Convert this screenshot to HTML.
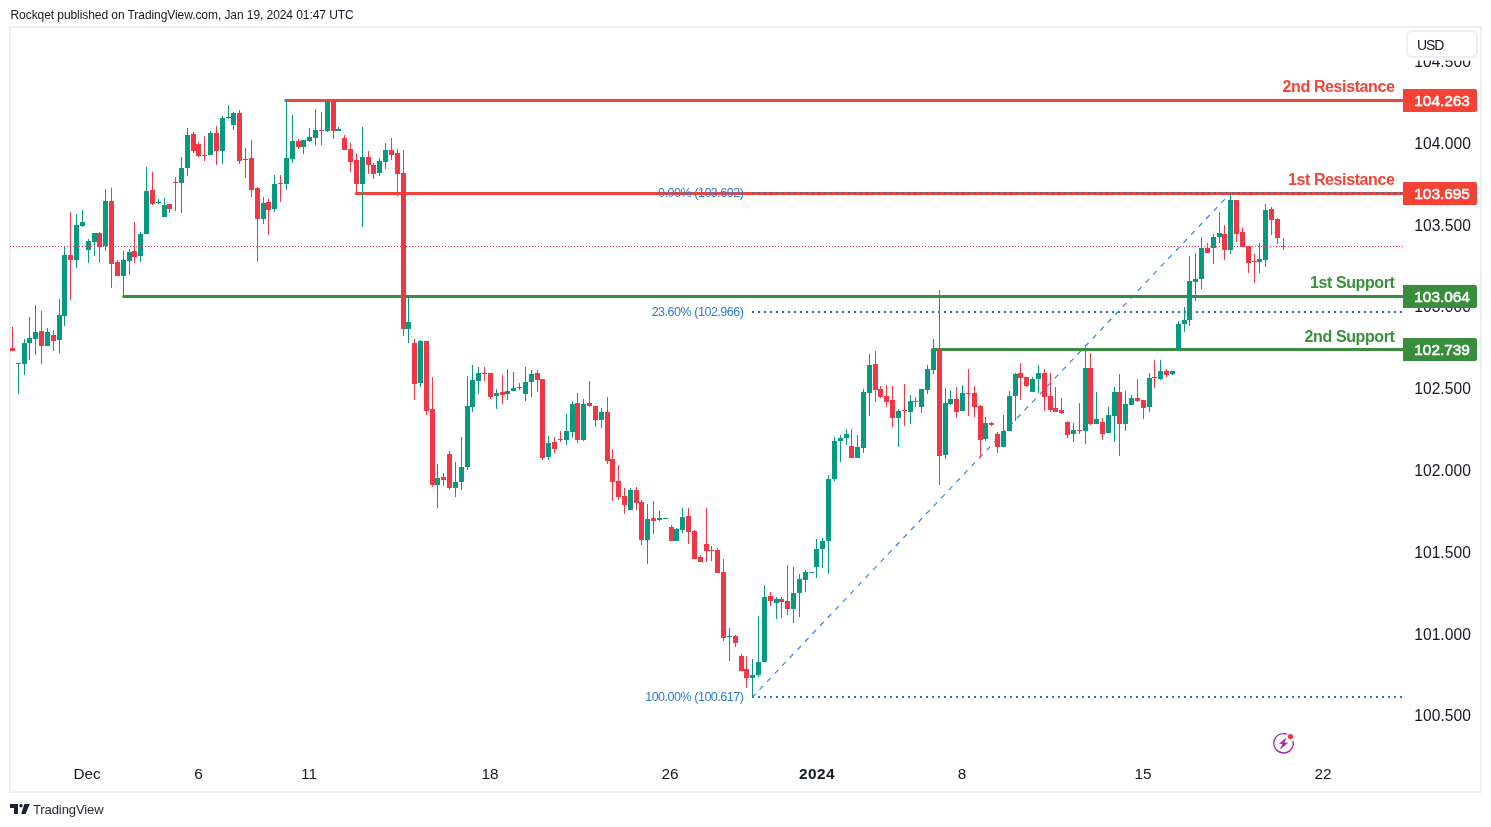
<!DOCTYPE html>
<html lang="en"><head><meta charset="utf-8"><title>DXY chart - TradingView</title>
<style>
html,body{margin:0;padding:0;background:#fff;}
body{width:1491px;height:827px;overflow:hidden;position:relative;font-family:"Liberation Sans",sans-serif;color:#131722;}
#frame{position:absolute;left:9px;top:26px;width:1469px;height:763px;border:2px solid #eceef4;box-sizing:content-box;}
#hdr{position:absolute;left:10.5px;top:8.2px;font-size:12px;line-height:14px;white-space:nowrap;letter-spacing:-0.07px;color:#131722;}
svg{position:absolute;left:0;top:0;}
.ax{font-size:15.6px;fill:#131722;letter-spacing:0.05px;}
.tx{font-size:15.4px;fill:#131722;}
.lab{font-size:15.4px;font-weight:normal;fill:#fff;stroke:#fff;stroke-width:0.55px;letter-spacing:0px;}
.ttl{font-size:16px;font-weight:bold;letter-spacing:-0.39px;}
.fib{font-size:12.5px;fill:#2a7bd6;letter-spacing:-0.47px;}
#usd{position:absolute;left:1406px;top:30px;width:68px;height:24px;border:2px solid #eceef4;border-radius:6px;background:#fff;font-size:14px;line-height:24px;}
#usd span{position:absolute;left:9px;top:0.5px;letter-spacing:-1.1px;}
#tv{position:absolute;left:33px;top:801.6px;font-size:13px;line-height:16px;color:#1e222d;letter-spacing:-0.1px;}
</style></head><body>
<div id="hdr">Rockqet published on TradingView.com, Jan 19, 2024 01:47 UTC</div>
<div id="frame"></div>
<svg width="1491" height="827" viewBox="0 0 1491 827">
<g class="ax">
<text x="1414.2" y="67.2">104.500</text>
<text x="1414.2" y="148.9">104.000</text>
<text x="1414.2" y="230.7">103.500</text>
<text x="1414.2" y="312.4">103.000</text>
<text x="1414.2" y="394.2">102.500</text>
<text x="1414.2" y="475.9">102.000</text>
<text x="1414.2" y="557.7">101.500</text>
<text x="1414.2" y="639.5">101.000</text>
<text x="1414.2" y="721.2">100.500</text>
</g>
<rect x="1404" y="28" width="75" height="32.6" fill="#fff"/>
<g class="tx" text-anchor="middle">
<text x="87" y="779" letter-spacing="-0.2">Dec</text>
<text x="198.5" y="779" letter-spacing="-0.2">6</text>
<text x="309" y="779" letter-spacing="0">11</text>
<text x="490" y="779" letter-spacing="0">18</text>
<text x="670" y="779" letter-spacing="0">26</text>
<text x="817" y="779" font-weight="bold" letter-spacing="0.4">2024</text>
<text x="962" y="779" letter-spacing="-0.2">8</text>
<text x="1143" y="779" letter-spacing="0">15</text>
<text x="1323" y="779" letter-spacing="0">22</text>
</g>
<line x1="752" x2="1403" y1="193" y2="193" stroke="#1976d2" stroke-width="2" stroke-dasharray="2 4" shape-rendering="crispEdges"/>
<line x1="752" x2="1403" y1="312" y2="312" stroke="#1976d2" stroke-width="2" stroke-dasharray="2 4" shape-rendering="crispEdges"/>
<line x1="752" x2="1403" y1="697" y2="697" stroke="#1976d2" stroke-width="2" stroke-dasharray="2 4" shape-rendering="crispEdges"/>
<line x1="752.7" y1="696.8" x2="1230.5" y2="193.2" stroke="#3a88e8" stroke-width="1.25" stroke-dasharray="5.2 5.8" stroke-dashoffset="1.1"/>
<line x1="285.8" x2="1404" y1="100.5" y2="100.5" stroke="#f44336" stroke-width="3" stroke-linecap="round"/>
<line x1="356.2" x2="1404" y1="193.5" y2="193.5" stroke="#f44336" stroke-width="3" stroke-linecap="round"/>
<line x1="123.6" x2="1404" y1="296.5" y2="296.5" stroke="#388e3c" stroke-width="3" stroke-linecap="round"/>
<line x1="932.7" x2="1404" y1="349.5" y2="349.5" stroke="#388e3c" stroke-width="3" stroke-linecap="round"/>
<line x1="752" x2="1403" y1="193" y2="193" stroke="#1976d2" stroke-width="2" stroke-dasharray="2 4" shape-rendering="crispEdges"/>
<g shape-rendering="crispEdges">
<rect x="12" y="327" width="1" height="24" fill="#f23645"/><rect x="10" y="348" width="5" height="3" fill="#f23645"/>
<rect x="18" y="363" width="1" height="31" fill="#089981"/><rect x="16" y="363" width="5" height="1" fill="#089981"/>
<rect x="24" y="339" width="1" height="36" fill="#089981"/><rect x="22" y="343" width="5" height="21" fill="#089981"/>
<rect x="29" y="317" width="1" height="43" fill="#089981"/><rect x="27" y="338" width="5" height="5" fill="#089981"/>
<rect x="35" y="305" width="1" height="50" fill="#089981"/><rect x="33" y="332" width="5" height="7" fill="#089981"/>
<rect x="41" y="311" width="1" height="53" fill="#f23645"/><rect x="39" y="331" width="5" height="15" fill="#f23645"/>
<rect x="47" y="328" width="1" height="18" fill="#089981"/><rect x="45" y="332" width="5" height="14" fill="#089981"/>
<rect x="53" y="330" width="1" height="21" fill="#f23645"/><rect x="51" y="335" width="5" height="6" fill="#f23645"/>
<rect x="59" y="299" width="1" height="54" fill="#089981"/><rect x="57" y="315" width="5" height="25" fill="#089981"/>
<rect x="64" y="247" width="1" height="79" fill="#089981"/><rect x="62" y="255" width="5" height="61" fill="#089981"/>
<rect x="70" y="212" width="1" height="88" fill="#f23645"/><rect x="68" y="255" width="5" height="5" fill="#f23645"/>
<rect x="76" y="214" width="1" height="54" fill="#089981"/><rect x="74" y="225" width="5" height="35" fill="#089981"/>
<rect x="82" y="210" width="1" height="17" fill="#089981"/><rect x="80" y="222" width="5" height="4" fill="#089981"/>
<rect x="88" y="239" width="1" height="24" fill="#089981"/><rect x="86" y="241" width="5" height="9" fill="#089981"/>
<rect x="94" y="233" width="1" height="23" fill="#089981"/><rect x="92" y="233" width="5" height="9" fill="#089981"/>
<rect x="99" y="232" width="1" height="31" fill="#f23645"/><rect x="97" y="233" width="5" height="14" fill="#f23645"/>
<rect x="105" y="189" width="1" height="62" fill="#089981"/><rect x="103" y="201" width="5" height="45" fill="#089981"/>
<rect x="111" y="188" width="1" height="100" fill="#f23645"/><rect x="109" y="201" width="5" height="63" fill="#f23645"/>
<rect x="117" y="260" width="1" height="16" fill="#f23645"/><rect x="115" y="262" width="5" height="14" fill="#f23645"/>
<rect x="123" y="251" width="1" height="46" fill="#089981"/><rect x="121" y="260" width="5" height="16" fill="#089981"/>
<rect x="129" y="249" width="1" height="26" fill="#089981"/><rect x="127" y="252" width="5" height="9" fill="#089981"/>
<rect x="134" y="222" width="1" height="41" fill="#f23645"/><rect x="132" y="251" width="5" height="6" fill="#f23645"/>
<rect x="140" y="232" width="1" height="30" fill="#089981"/><rect x="138" y="234" width="5" height="22" fill="#089981"/>
<rect x="146" y="167" width="1" height="67" fill="#089981"/><rect x="144" y="191" width="5" height="43" fill="#089981"/>
<rect x="152" y="172" width="1" height="33" fill="#f23645"/><rect x="150" y="190" width="5" height="14" fill="#f23645"/>
<rect x="158" y="199" width="1" height="5" fill="#089981"/><rect x="156" y="202" width="5" height="1" fill="#089981"/>
<rect x="164" y="198" width="1" height="19" fill="#089981"/><rect x="162" y="205" width="5" height="12" fill="#089981"/>
<rect x="169" y="204" width="1" height="9" fill="#f23645"/><rect x="167" y="204" width="5" height="5" fill="#f23645"/>
<rect x="175" y="177" width="1" height="34" fill="#f23645"/><rect x="173" y="182" width="5" height="1" fill="#f23645"/>
<rect x="181" y="157" width="1" height="56" fill="#089981"/><rect x="179" y="168" width="5" height="15" fill="#089981"/>
<rect x="187" y="128" width="1" height="48" fill="#089981"/><rect x="185" y="135" width="5" height="33" fill="#089981"/>
<rect x="193" y="132" width="1" height="21" fill="#f23645"/><rect x="191" y="134" width="5" height="17" fill="#f23645"/>
<rect x="198" y="142" width="1" height="15" fill="#f23645"/><rect x="196" y="144" width="5" height="12" fill="#f23645"/>
<rect x="204" y="136" width="1" height="25" fill="#f23645"/><rect x="202" y="155" width="5" height="1" fill="#f23645"/>
<rect x="210" y="131" width="1" height="24" fill="#089981"/><rect x="208" y="133" width="5" height="22" fill="#089981"/>
<rect x="216" y="126" width="1" height="39" fill="#f23645"/><rect x="214" y="133" width="5" height="18" fill="#f23645"/>
<rect x="222" y="116" width="1" height="48" fill="#089981"/><rect x="220" y="118" width="5" height="33" fill="#089981"/>
<rect x="228" y="105" width="1" height="14" fill="#089981"/><rect x="226" y="117" width="5" height="1" fill="#089981"/>
<rect x="233" y="112" width="1" height="18" fill="#089981"/><rect x="231" y="113" width="5" height="12" fill="#089981"/>
<rect x="239" y="110" width="1" height="54" fill="#f23645"/><rect x="237" y="113" width="5" height="48" fill="#f23645"/>
<rect x="245" y="148" width="1" height="30" fill="#089981"/><rect x="243" y="159" width="5" height="1" fill="#089981"/>
<rect x="251" y="140" width="1" height="57" fill="#f23645"/><rect x="249" y="158" width="5" height="32" fill="#f23645"/>
<rect x="257" y="187" width="1" height="75" fill="#f23645"/><rect x="255" y="188" width="5" height="31" fill="#f23645"/>
<rect x="263" y="197" width="1" height="27" fill="#089981"/><rect x="261" y="203" width="5" height="16" fill="#089981"/>
<rect x="268" y="199" width="1" height="36" fill="#f23645"/><rect x="266" y="202" width="5" height="8" fill="#f23645"/>
<rect x="274" y="175" width="1" height="37" fill="#089981"/><rect x="272" y="184" width="5" height="25" fill="#089981"/>
<rect x="280" y="175" width="1" height="27" fill="#f23645"/><rect x="278" y="183" width="5" height="1" fill="#f23645"/>
<rect x="286" y="100" width="1" height="90" fill="#089981"/><rect x="284" y="158" width="5" height="26" fill="#089981"/>
<rect x="292" y="115" width="1" height="48" fill="#089981"/><rect x="290" y="141" width="5" height="18" fill="#089981"/>
<rect x="298" y="139" width="1" height="10" fill="#f23645"/><rect x="296" y="141" width="5" height="6" fill="#f23645"/>
<rect x="303" y="140" width="1" height="14" fill="#089981"/><rect x="301" y="140" width="5" height="7" fill="#089981"/>
<rect x="309" y="128" width="1" height="14" fill="#089981"/><rect x="307" y="137" width="5" height="4" fill="#089981"/>
<rect x="315" y="109" width="1" height="36" fill="#089981"/><rect x="313" y="130" width="5" height="8" fill="#089981"/>
<rect x="321" y="112" width="1" height="33" fill="#f23645"/><rect x="319" y="130" width="5" height="1" fill="#f23645"/>
<rect x="327" y="100" width="1" height="32" fill="#089981"/><rect x="325" y="101" width="5" height="30" fill="#089981"/>
<rect x="333" y="101" width="1" height="38" fill="#f23645"/><rect x="331" y="101" width="5" height="30" fill="#f23645"/>
<rect x="338" y="127" width="1" height="4" fill="#089981"/><rect x="336" y="129" width="5" height="2" fill="#089981"/>
<rect x="344" y="135" width="1" height="15" fill="#f23645"/><rect x="342" y="138" width="5" height="12" fill="#f23645"/>
<rect x="350" y="143" width="1" height="29" fill="#f23645"/><rect x="348" y="149" width="5" height="13" fill="#f23645"/>
<rect x="356" y="153" width="1" height="41" fill="#f23645"/><rect x="354" y="160" width="5" height="24" fill="#f23645"/>
<rect x="362" y="127" width="1" height="100" fill="#089981"/><rect x="360" y="157" width="5" height="27" fill="#089981"/>
<rect x="368" y="151" width="1" height="23" fill="#f23645"/><rect x="366" y="157" width="5" height="8" fill="#f23645"/>
<rect x="373" y="163" width="1" height="16" fill="#f23645"/><rect x="371" y="165" width="5" height="9" fill="#f23645"/>
<rect x="379" y="158" width="1" height="18" fill="#089981"/><rect x="377" y="161" width="5" height="12" fill="#089981"/>
<rect x="385" y="143" width="1" height="26" fill="#089981"/><rect x="383" y="150" width="5" height="12" fill="#089981"/>
<rect x="391" y="138" width="1" height="22" fill="#f23645"/><rect x="389" y="150" width="5" height="5" fill="#f23645"/>
<rect x="397" y="149" width="1" height="47" fill="#f23645"/><rect x="395" y="153" width="5" height="21" fill="#f23645"/>
<rect x="403" y="150" width="1" height="186" fill="#f23645"/><rect x="401" y="173" width="5" height="156" fill="#f23645"/>
<rect x="408" y="298" width="1" height="45" fill="#089981"/><rect x="406" y="322" width="5" height="7" fill="#089981"/>
<rect x="414" y="339" width="1" height="61" fill="#f23645"/><rect x="412" y="343" width="5" height="41" fill="#f23645"/>
<rect x="420" y="340" width="1" height="47" fill="#089981"/><rect x="418" y="341" width="5" height="42" fill="#089981"/>
<rect x="426" y="341" width="1" height="74" fill="#f23645"/><rect x="424" y="341" width="5" height="70" fill="#f23645"/>
<rect x="432" y="377" width="1" height="110" fill="#f23645"/><rect x="430" y="409" width="5" height="76" fill="#f23645"/>
<rect x="437" y="464" width="1" height="44" fill="#089981"/><rect x="435" y="478" width="5" height="7" fill="#089981"/>
<rect x="443" y="473" width="1" height="13" fill="#f23645"/><rect x="441" y="477" width="5" height="3" fill="#f23645"/>
<rect x="449" y="451" width="1" height="39" fill="#f23645"/><rect x="447" y="454" width="5" height="34" fill="#f23645"/>
<rect x="455" y="462" width="1" height="35" fill="#089981"/><rect x="453" y="482" width="5" height="6" fill="#089981"/>
<rect x="461" y="437" width="1" height="53" fill="#089981"/><rect x="459" y="467" width="5" height="15" fill="#089981"/>
<rect x="467" y="376" width="1" height="94" fill="#089981"/><rect x="465" y="406" width="5" height="61" fill="#089981"/>
<rect x="472" y="365" width="1" height="47" fill="#089981"/><rect x="470" y="380" width="5" height="27" fill="#089981"/>
<rect x="478" y="367" width="1" height="27" fill="#089981"/><rect x="476" y="373" width="5" height="8" fill="#089981"/>
<rect x="484" y="367" width="1" height="14" fill="#f23645"/><rect x="482" y="373" width="5" height="1" fill="#f23645"/>
<rect x="490" y="373" width="1" height="26" fill="#f23645"/><rect x="488" y="373" width="5" height="24" fill="#f23645"/>
<rect x="496" y="389" width="1" height="20" fill="#089981"/><rect x="494" y="393" width="5" height="3" fill="#089981"/>
<rect x="502" y="375" width="1" height="29" fill="#f23645"/><rect x="500" y="392" width="5" height="3" fill="#f23645"/>
<rect x="507" y="369" width="1" height="31" fill="#089981"/><rect x="505" y="391" width="5" height="3" fill="#089981"/>
<rect x="513" y="372" width="1" height="19" fill="#089981"/><rect x="511" y="388" width="5" height="3" fill="#089981"/>
<rect x="519" y="383" width="1" height="7" fill="#089981"/><rect x="517" y="387" width="5" height="1" fill="#089981"/>
<rect x="525" y="367" width="1" height="34" fill="#089981"/><rect x="523" y="382" width="5" height="12" fill="#089981"/>
<rect x="531" y="370" width="1" height="27" fill="#089981"/><rect x="529" y="374" width="5" height="8" fill="#089981"/>
<rect x="537" y="370" width="1" height="22" fill="#f23645"/><rect x="535" y="373" width="5" height="7" fill="#f23645"/>
<rect x="542" y="379" width="1" height="81" fill="#f23645"/><rect x="540" y="379" width="5" height="79" fill="#f23645"/>
<rect x="548" y="436" width="1" height="24" fill="#089981"/><rect x="546" y="443" width="5" height="14" fill="#089981"/>
<rect x="554" y="437" width="1" height="16" fill="#f23645"/><rect x="552" y="442" width="5" height="7" fill="#f23645"/>
<rect x="560" y="431" width="1" height="11" fill="#f23645"/><rect x="558" y="439" width="5" height="1" fill="#f23645"/>
<rect x="566" y="414" width="1" height="31" fill="#089981"/><rect x="564" y="431" width="5" height="9" fill="#089981"/>
<rect x="572" y="401" width="1" height="37" fill="#089981"/><rect x="570" y="404" width="5" height="28" fill="#089981"/>
<rect x="577" y="393" width="1" height="50" fill="#f23645"/><rect x="575" y="403" width="5" height="37" fill="#f23645"/>
<rect x="583" y="399" width="1" height="42" fill="#089981"/><rect x="581" y="404" width="5" height="36" fill="#089981"/>
<rect x="589" y="381" width="1" height="26" fill="#f23645"/><rect x="587" y="403" width="5" height="3" fill="#f23645"/>
<rect x="595" y="406" width="1" height="21" fill="#f23645"/><rect x="593" y="406" width="5" height="14" fill="#f23645"/>
<rect x="601" y="408" width="1" height="20" fill="#089981"/><rect x="599" y="412" width="5" height="8" fill="#089981"/>
<rect x="607" y="397" width="1" height="67" fill="#f23645"/><rect x="605" y="412" width="5" height="49" fill="#f23645"/>
<rect x="612" y="449" width="1" height="52" fill="#f23645"/><rect x="610" y="459" width="5" height="23" fill="#f23645"/>
<rect x="618" y="465" width="1" height="35" fill="#f23645"/><rect x="616" y="481" width="5" height="16" fill="#f23645"/>
<rect x="624" y="488" width="1" height="26" fill="#f23645"/><rect x="622" y="496" width="5" height="9" fill="#f23645"/>
<rect x="630" y="488" width="1" height="22" fill="#089981"/><rect x="628" y="490" width="5" height="20" fill="#089981"/>
<rect x="636" y="487" width="1" height="23" fill="#f23645"/><rect x="634" y="490" width="5" height="13" fill="#f23645"/>
<rect x="641" y="500" width="1" height="45" fill="#f23645"/><rect x="639" y="502" width="5" height="38" fill="#f23645"/>
<rect x="647" y="504" width="1" height="60" fill="#089981"/><rect x="645" y="519" width="5" height="21" fill="#089981"/>
<rect x="653" y="501" width="1" height="33" fill="#f23645"/><rect x="651" y="518" width="5" height="3" fill="#f23645"/>
<rect x="659" y="511" width="1" height="10" fill="#089981"/><rect x="657" y="518" width="5" height="2" fill="#089981"/>
<rect x="665" y="518" width="1" height="1" fill="#089981"/><rect x="663" y="518" width="5" height="1" fill="#089981"/>
<rect x="671" y="525" width="1" height="16" fill="#f23645"/><rect x="669" y="527" width="5" height="14" fill="#f23645"/>
<rect x="676" y="528" width="1" height="13" fill="#089981"/><rect x="674" y="529" width="5" height="12" fill="#089981"/>
<rect x="682" y="508" width="1" height="25" fill="#089981"/><rect x="680" y="517" width="5" height="13" fill="#089981"/>
<rect x="688" y="508" width="1" height="36" fill="#f23645"/><rect x="686" y="516" width="5" height="16" fill="#f23645"/>
<rect x="694" y="530" width="1" height="29" fill="#f23645"/><rect x="692" y="531" width="5" height="28" fill="#f23645"/>
<rect x="700" y="555" width="1" height="7" fill="#f23645"/><rect x="698" y="557" width="5" height="5" fill="#f23645"/>
<rect x="706" y="508" width="1" height="54" fill="#f23645"/><rect x="704" y="544" width="5" height="7" fill="#f23645"/>
<rect x="711" y="546" width="1" height="15" fill="#f23645"/><rect x="709" y="550" width="5" height="1" fill="#f23645"/>
<rect x="717" y="548" width="1" height="25" fill="#f23645"/><rect x="715" y="550" width="5" height="23" fill="#f23645"/>
<rect x="723" y="559" width="1" height="82" fill="#f23645"/><rect x="721" y="572" width="5" height="66" fill="#f23645"/>
<rect x="729" y="628" width="1" height="33" fill="#089981"/><rect x="727" y="636" width="5" height="1" fill="#089981"/>
<rect x="735" y="635" width="1" height="12" fill="#f23645"/><rect x="733" y="636" width="5" height="7" fill="#f23645"/>
<rect x="741" y="654" width="1" height="17" fill="#f23645"/><rect x="739" y="656" width="5" height="15" fill="#f23645"/>
<rect x="746" y="656" width="1" height="32" fill="#f23645"/><rect x="744" y="669" width="5" height="9" fill="#f23645"/>
<rect x="752" y="659" width="1" height="38" fill="#089981"/><rect x="750" y="675" width="5" height="3" fill="#089981"/>
<rect x="758" y="616" width="1" height="61" fill="#089981"/><rect x="756" y="662" width="5" height="13" fill="#089981"/>
<rect x="764" y="585" width="1" height="77" fill="#089981"/><rect x="762" y="597" width="5" height="65" fill="#089981"/>
<rect x="770" y="592" width="1" height="14" fill="#f23645"/><rect x="768" y="596" width="5" height="5" fill="#f23645"/>
<rect x="776" y="597" width="1" height="22" fill="#089981"/><rect x="774" y="599" width="5" height="4" fill="#089981"/>
<rect x="781" y="597" width="1" height="21" fill="#f23645"/><rect x="779" y="599" width="5" height="3" fill="#f23645"/>
<rect x="787" y="565" width="1" height="50" fill="#f23645"/><rect x="785" y="601" width="5" height="8" fill="#f23645"/>
<rect x="793" y="567" width="1" height="56" fill="#089981"/><rect x="791" y="593" width="5" height="16" fill="#089981"/>
<rect x="799" y="574" width="1" height="43" fill="#089981"/><rect x="797" y="579" width="5" height="14" fill="#089981"/>
<rect x="805" y="570" width="1" height="22" fill="#089981"/><rect x="803" y="572" width="5" height="8" fill="#089981"/>
<rect x="811" y="572" width="1" height="1" fill="#089981"/><rect x="809" y="572" width="5" height="1" fill="#089981"/>
<rect x="816" y="539" width="1" height="39" fill="#089981"/><rect x="814" y="549" width="5" height="18" fill="#089981"/>
<rect x="822" y="538" width="1" height="30" fill="#089981"/><rect x="820" y="541" width="5" height="8" fill="#089981"/>
<rect x="828" y="475" width="1" height="99" fill="#089981"/><rect x="826" y="479" width="5" height="62" fill="#089981"/>
<rect x="834" y="437" width="1" height="44" fill="#089981"/><rect x="832" y="441" width="5" height="38" fill="#089981"/>
<rect x="840" y="435" width="1" height="27" fill="#089981"/><rect x="838" y="438" width="5" height="3" fill="#089981"/>
<rect x="846" y="429" width="1" height="16" fill="#089981"/><rect x="844" y="434" width="5" height="4" fill="#089981"/>
<rect x="851" y="429" width="1" height="29" fill="#f23645"/><rect x="849" y="446" width="5" height="12" fill="#f23645"/>
<rect x="857" y="435" width="1" height="23" fill="#089981"/><rect x="855" y="447" width="5" height="11" fill="#089981"/>
<rect x="863" y="389" width="1" height="64" fill="#089981"/><rect x="861" y="392" width="5" height="56" fill="#089981"/>
<rect x="869" y="354" width="1" height="62" fill="#089981"/><rect x="867" y="365" width="5" height="28" fill="#089981"/>
<rect x="875" y="351" width="1" height="51" fill="#f23645"/><rect x="873" y="364" width="5" height="26" fill="#f23645"/>
<rect x="880" y="386" width="1" height="12" fill="#f23645"/><rect x="878" y="389" width="5" height="8" fill="#f23645"/>
<rect x="886" y="385" width="1" height="22" fill="#f23645"/><rect x="884" y="396" width="5" height="6" fill="#f23645"/>
<rect x="892" y="386" width="1" height="41" fill="#f23645"/><rect x="890" y="400" width="5" height="18" fill="#f23645"/>
<rect x="898" y="409" width="1" height="38" fill="#089981"/><rect x="896" y="411" width="5" height="7" fill="#089981"/>
<rect x="904" y="384" width="1" height="42" fill="#f23645"/><rect x="902" y="410" width="5" height="1" fill="#f23645"/>
<rect x="910" y="395" width="1" height="29" fill="#089981"/><rect x="908" y="401" width="5" height="11" fill="#089981"/>
<rect x="915" y="397" width="1" height="10" fill="#f23645"/><rect x="913" y="401" width="5" height="1" fill="#f23645"/>
<rect x="921" y="389" width="1" height="24" fill="#089981"/><rect x="919" y="389" width="5" height="18" fill="#089981"/>
<rect x="927" y="365" width="1" height="29" fill="#089981"/><rect x="925" y="369" width="5" height="21" fill="#089981"/>
<rect x="933" y="339" width="1" height="35" fill="#089981"/><rect x="931" y="349" width="5" height="21" fill="#089981"/>
<rect x="939" y="290" width="1" height="195" fill="#f23645"/><rect x="937" y="349" width="5" height="107" fill="#f23645"/>
<rect x="945" y="388" width="1" height="71" fill="#089981"/><rect x="943" y="403" width="5" height="52" fill="#089981"/>
<rect x="950" y="390" width="1" height="15" fill="#089981"/><rect x="948" y="399" width="5" height="5" fill="#089981"/>
<rect x="956" y="387" width="1" height="31" fill="#f23645"/><rect x="954" y="399" width="5" height="13" fill="#f23645"/>
<rect x="962" y="385" width="1" height="26" fill="#089981"/><rect x="960" y="393" width="5" height="18" fill="#089981"/>
<rect x="968" y="369" width="1" height="47" fill="#f23645"/><rect x="966" y="393" width="5" height="1" fill="#f23645"/>
<rect x="974" y="386" width="1" height="31" fill="#f23645"/><rect x="972" y="393" width="5" height="14" fill="#f23645"/>
<rect x="980" y="405" width="1" height="53" fill="#f23645"/><rect x="978" y="406" width="5" height="34" fill="#f23645"/>
<rect x="985" y="417" width="1" height="24" fill="#089981"/><rect x="983" y="423" width="5" height="16" fill="#089981"/>
<rect x="991" y="422" width="1" height="4" fill="#f23645"/><rect x="989" y="423" width="5" height="2" fill="#f23645"/>
<rect x="997" y="432" width="1" height="21" fill="#f23645"/><rect x="995" y="434" width="5" height="13" fill="#f23645"/>
<rect x="1003" y="415" width="1" height="32" fill="#089981"/><rect x="1001" y="431" width="5" height="16" fill="#089981"/>
<rect x="1009" y="391" width="1" height="40" fill="#089981"/><rect x="1007" y="396" width="5" height="35" fill="#089981"/>
<rect x="1015" y="373" width="1" height="48" fill="#089981"/><rect x="1013" y="374" width="5" height="22" fill="#089981"/>
<rect x="1020" y="363" width="1" height="37" fill="#f23645"/><rect x="1018" y="373" width="5" height="5" fill="#f23645"/>
<rect x="1026" y="377" width="1" height="10" fill="#f23645"/><rect x="1024" y="377" width="5" height="9" fill="#f23645"/>
<rect x="1032" y="377" width="1" height="15" fill="#089981"/><rect x="1030" y="379" width="5" height="13" fill="#089981"/>
<rect x="1038" y="365" width="1" height="28" fill="#089981"/><rect x="1036" y="373" width="5" height="6" fill="#089981"/>
<rect x="1044" y="369" width="1" height="42" fill="#f23645"/><rect x="1042" y="373" width="5" height="24" fill="#f23645"/>
<rect x="1050" y="373" width="1" height="39" fill="#f23645"/><rect x="1048" y="396" width="5" height="14" fill="#f23645"/>
<rect x="1055" y="387" width="1" height="25" fill="#f23645"/><rect x="1053" y="408" width="5" height="4" fill="#f23645"/>
<rect x="1061" y="398" width="1" height="16" fill="#f23645"/><rect x="1059" y="410" width="5" height="3" fill="#f23645"/>
<rect x="1067" y="421" width="1" height="17" fill="#f23645"/><rect x="1065" y="422" width="5" height="13" fill="#f23645"/>
<rect x="1073" y="423" width="1" height="19" fill="#089981"/><rect x="1071" y="430" width="5" height="4" fill="#089981"/>
<rect x="1079" y="403" width="1" height="31" fill="#f23645"/><rect x="1077" y="430" width="5" height="1" fill="#f23645"/>
<rect x="1085" y="345" width="1" height="99" fill="#089981"/><rect x="1083" y="368" width="5" height="63" fill="#089981"/>
<rect x="1090" y="353" width="1" height="72" fill="#f23645"/><rect x="1088" y="368" width="5" height="56" fill="#f23645"/>
<rect x="1096" y="392" width="1" height="32" fill="#089981"/><rect x="1094" y="419" width="5" height="5" fill="#089981"/>
<rect x="1102" y="418" width="1" height="22" fill="#f23645"/><rect x="1100" y="422" width="5" height="12" fill="#f23645"/>
<rect x="1108" y="407" width="1" height="26" fill="#089981"/><rect x="1106" y="415" width="5" height="18" fill="#089981"/>
<rect x="1114" y="387" width="1" height="55" fill="#089981"/><rect x="1112" y="392" width="5" height="24" fill="#089981"/>
<rect x="1119" y="374" width="1" height="82" fill="#f23645"/><rect x="1117" y="392" width="5" height="32" fill="#f23645"/>
<rect x="1125" y="391" width="1" height="40" fill="#089981"/><rect x="1123" y="404" width="5" height="20" fill="#089981"/>
<rect x="1131" y="395" width="1" height="10" fill="#089981"/><rect x="1129" y="398" width="5" height="7" fill="#089981"/>
<rect x="1137" y="379" width="1" height="23" fill="#f23645"/><rect x="1135" y="398" width="5" height="3" fill="#f23645"/>
<rect x="1143" y="400" width="1" height="19" fill="#f23645"/><rect x="1141" y="400" width="5" height="8" fill="#f23645"/>
<rect x="1149" y="373" width="1" height="39" fill="#089981"/><rect x="1147" y="378" width="5" height="29" fill="#089981"/>
<rect x="1154" y="360" width="1" height="28" fill="#f23645"/><rect x="1152" y="377" width="5" height="1" fill="#f23645"/>
<rect x="1160" y="360" width="1" height="20" fill="#089981"/><rect x="1158" y="371" width="5" height="8" fill="#089981"/>
<rect x="1166" y="369" width="1" height="8" fill="#f23645"/><rect x="1164" y="371" width="5" height="4" fill="#f23645"/>
<rect x="1172" y="371" width="1" height="4" fill="#089981"/><rect x="1170" y="371" width="5" height="3" fill="#089981"/>
<rect x="1178" y="321" width="1" height="29" fill="#089981"/><rect x="1176" y="324" width="5" height="26" fill="#089981"/>
<rect x="1184" y="307" width="1" height="25" fill="#089981"/><rect x="1182" y="320" width="5" height="4" fill="#089981"/>
<rect x="1189" y="256" width="1" height="70" fill="#089981"/><rect x="1187" y="281" width="5" height="39" fill="#089981"/>
<rect x="1195" y="253" width="1" height="48" fill="#089981"/><rect x="1193" y="279" width="5" height="3" fill="#089981"/>
<rect x="1201" y="237" width="1" height="52" fill="#089981"/><rect x="1199" y="248" width="5" height="31" fill="#089981"/>
<rect x="1207" y="243" width="1" height="10" fill="#f23645"/><rect x="1205" y="248" width="5" height="5" fill="#f23645"/>
<rect x="1213" y="234" width="1" height="30" fill="#089981"/><rect x="1211" y="237" width="5" height="11" fill="#089981"/>
<rect x="1219" y="212" width="1" height="31" fill="#089981"/><rect x="1217" y="233" width="5" height="4" fill="#089981"/>
<rect x="1224" y="225" width="1" height="35" fill="#f23645"/><rect x="1222" y="234" width="5" height="16" fill="#f23645"/>
<rect x="1230" y="193" width="1" height="61" fill="#089981"/><rect x="1228" y="200" width="5" height="50" fill="#089981"/>
<rect x="1236" y="200" width="1" height="42" fill="#f23645"/><rect x="1234" y="200" width="5" height="34" fill="#f23645"/>
<rect x="1242" y="228" width="1" height="19" fill="#f23645"/><rect x="1240" y="232" width="5" height="15" fill="#f23645"/>
<rect x="1248" y="246" width="1" height="27" fill="#f23645"/><rect x="1246" y="246" width="5" height="17" fill="#f23645"/>
<rect x="1254" y="254" width="1" height="29" fill="#f23645"/><rect x="1252" y="261" width="5" height="1" fill="#f23645"/>
<rect x="1259" y="243" width="1" height="30" fill="#089981"/><rect x="1257" y="259" width="5" height="3" fill="#089981"/>
<rect x="1265" y="204" width="1" height="63" fill="#089981"/><rect x="1263" y="210" width="5" height="50" fill="#089981"/>
<rect x="1271" y="207" width="1" height="28" fill="#f23645"/><rect x="1269" y="209" width="5" height="11" fill="#f23645"/>
<rect x="1277" y="218" width="1" height="26" fill="#f23645"/><rect x="1275" y="219" width="5" height="19" fill="#f23645"/>
<rect x="1283" y="238" width="1" height="12" fill="#f23645"/><rect x="1281" y="246" width="5" height="1" fill="#f23645"/>
</g>
<line x1="10" x2="1403" y1="246.5" y2="246.5" stroke="#f23645" stroke-width="1" stroke-dasharray="1 2" shape-rendering="crispEdges"/>
<g class="fib" text-anchor="end">
<text x="743.5" y="197">0.00% (103.692)</text>
<text x="743.5" y="316">23.60% (102.966)</text>
<text x="743.5" y="701">100.00% (100.617)</text>
</g>
<g class="ttl" text-anchor="end">
<text x="1394.5" y="91.7" fill="#f44336">2nd Resistance</text>
<text x="1394.5" y="184.5" fill="#f44336">1st Resistance</text>
<text x="1394.5" y="287.6" fill="#388e3c">1st Support</text>
<text x="1394.5" y="341.5" fill="#388e3c">2nd Support</text>
</g>
<path d="M1403 89.0h72a2 2 0 0 1 2 2v19a2 2 0 0 1-2 2h-72z" fill="#f44336"/>
<text class="lab" x="1414.3" y="105.9">104.263</text>
<path d="M1403 182.0h72a2 2 0 0 1 2 2v19a2 2 0 0 1-2 2h-72z" fill="#f44336"/>
<text class="lab" x="1414.3" y="198.9">103.695</text>
<path d="M1403 285.0h72a2 2 0 0 1 2 2v19a2 2 0 0 1-2 2h-72z" fill="#388e3c"/>
<text class="lab" x="1414.3" y="301.9">103.064</text>
<path d="M1403 338.0h72a2 2 0 0 1 2 2v19a2 2 0 0 1-2 2h-72z" fill="#388e3c"/>
<text class="lab" x="1414.3" y="354.9">102.739</text>
<g fill="none" stroke="#9c27b0" stroke-width="1.3" stroke-linecap="round">
<path d="M1292.99 741.28A9.7 9.7 0 1 1 1286.50 734.07"/>
</g>
<polygon fill="#9c27b0" stroke="#9c27b0" stroke-width="0.5" stroke-linejoin="round" points="1285.90,738.20 1279.40,743.70 1282.90,743.70 1280.40,748.90 1287.60,742.90 1284.10,742.90"/>
<circle cx="1290.5" cy="736.6" r="2.7" fill="#f23645"/>
<g fill="#1e222d">
<path d="M10 804h8v10h-4v-6h-4z"/>
<circle cx="21.0" cy="805.7" r="1.7"/>
<path d="M24.3 804h5.5l-4.3 10h-4.3z"/>
</g>
</svg>
<div id="usd"><span>USD</span></div>
<div id="tv">TradingView</div>
</body></html>
